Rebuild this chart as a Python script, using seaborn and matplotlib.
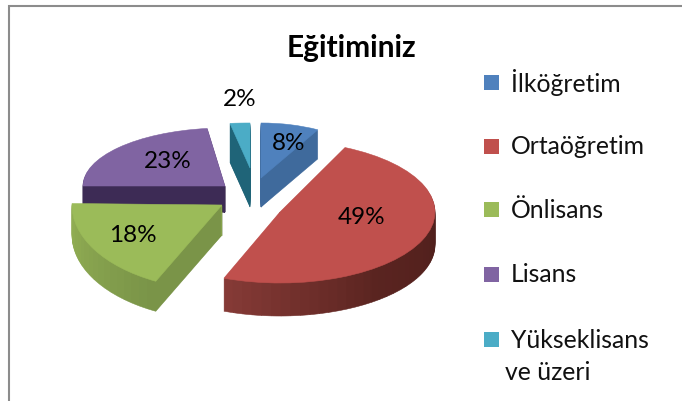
import numpy as np
import seaborn as sns
import matplotlib.pyplot as plt
from matplotlib.patches import Rectangle
from matplotlib.transforms import Affine2D

categories = ['İlköğretim', 'Ortaöğretim', 'Önlisans', 'Lisans', 'Yükseklisans\nve üzeri']
values = [8, 49, 18, 23, 2]
pct_labels = ['8%', '49%', '18%', '23%', '2%']

top_colors = ['#4F81BD', '#C0504D', '#9BBB59', '#8064A2', '#4BACC6']
side_left = ['#3F6A9C', '#853A36', '#93B054', '#3D2B55', '#1F6478']
side_right = ['#3F6A9C', '#4F1F1C', '#7A9448', '#3D2B55', '#1F6478']

# each slice has its own centre, radii, tilt and depth (fake perspective)
cx = [261, 280, 222, 225, 250]
cy = [178, 212, 205, 186, 168]
rx = [118, 155, 150, 142, 160]
ry = [55, 71, 85, 58, 45]
tilt = [0, -4, 1, 0, 0]
depth = [29, 33, 30, 26, 39]
starts = np.cumsum([0] + values[:-1]) * 3.6
label_xy = [(289, 144), (362, 217), (133, 235), (168, 162), (240, 100)]
legend_y = [83, 147, 210, 275, 340]
order = [4, 0, 3, 2, 1]

W, H = 682, 401

sns.set_theme(style='white')
plt.rcParams['font.family'] = ['Lato', 'DejaVu Sans']

fig = plt.figure(figsize=(W / 100, H / 100), dpi=100)
ax = fig.add_axes([0, 0, 1, 1])
ax.set_xlim(0, W)
ax.set_ylim(H, 0)
ax.axis('off')


def draw_slice(i, dy, cols):
    # y axis is flipped, so the pie runs clockwise on screen with counterclock on
    n = len(cols)
    parts = [values[i] / 100 / n] * n
    wedges, _ = ax.pie(parts, radius=1, colors=cols, normalize=False, counterclock=True,
                       startangle=-90 + starts[i] + tilt[i],
                       wedgeprops={'edgecolor': 'none', 'linewidth': 0})
    t = Affine2D().scale(rx[i], ry[i]).translate(cx[i], cy[i] + dy) + ax.transData
    for w in wedges:
        w.set_transform(t)
        w.set_edgecolor(w.get_facecolor())
        w.set_linewidth(0.4)
        w.set_clip_on(False)


for i in order:
    n = max(2, values[i])
    shades = sns.blend_palette([side_left[i], side_right[i]], n)
    if i == 1:
        # light end is at the front left of the red slice
        shades = sns.blend_palette([side_right[i], side_right[i], '#5A2420', side_left[i]], n)
    if i == 2:
        shades = sns.blend_palette([side_right[i], side_left[i]], n)
    for d in range(depth[i], 0, -1):
        draw_slice(i, d, shades)
    draw_slice(i, 0, [top_colors[i]])

ax.set_xlim(0, W)
ax.set_ylim(H, 0)
ax.set_aspect('auto')

for lab, (x, y) in zip(pct_labels, label_xy):
    ax.text(x, y, lab, fontsize=17.5, ha='center', va='center', color='black')

ax.text(351, 48, 'Eğitiminiz', fontsize=21.5, fontweight='bold', ha='center', va='center', color='black')

for name, y, c in zip(categories, legend_y, top_colors):
    ax.add_patch(Rectangle((484, y - 8), 15, 15, facecolor=c, edgecolor='none'))
    first = name.split('\n')[0]
    ax.text(511, y, first, fontsize=17.8, ha='left', va='center', color='#111111')
ax.text(505, 372, categories[4].split('\n')[1], fontsize=17.8, ha='left', va='center', color='#111111')

# chart frame, runs off the right and bottom of the crop
ax.plot([9, 9, W], [H, 5.5, 5.5], color='#8c8c8c', lw=1.5, solid_joinstyle='miter')

fig.savefig('out.png', dpi=100)
